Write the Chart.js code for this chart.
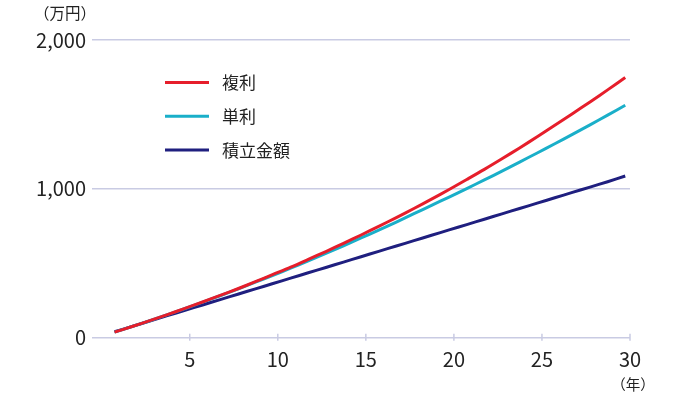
<!DOCTYPE html>
<html><head><meta charset="utf-8">
<script src="https://cdn.jsdelivr.net/npm/chart.js@4/dist/chart.umd.min.js"></script>
<style>html,body{margin:0;padding:0;background:#fff}#wrap{width:690px;height:398px}</style>
</head><body><div id="wrap"><canvas id="c" width="690" height="398"></canvas></div>
<script>
const years = [1,2,3,4,5,6,7,8,9,10,11,12,13,14,15,16,17,18,19,20,21,22,23,24,25,26,27,28,29,30];
const compound = [37,75,115,155,197,240,284,329,376,425,474,526,579,634,690,748,807,868,931,996,1063,1131,1202,1275,1350,1427,1505,1584,1665,1748];
const simple = [37,75,114,155,196,239,282,327,373,419,467,516,566,617,670,723,777,833,889,945,1002,1060,1119,1180,1241,1303,1366,1430,1495,1562];
const contrib = [40,76,112,148,184,220,256,292,328,364,400,436,472,508,544,580,616,652,688,724,760,796,832,868,904,940,976,1012,1048,1086];
const seriesNames = ['複利','単利','積立金額'];
const seriesColors = ['#e61e2b','#1aafc9','#1f1f7f'];
const xTicks = [5,10,15,20,25,30];
const yTicks = [0,1000,2000];
const yUnit = '（万円）';
const xUnit = '（年）';
const FONT = '"Noto Sans CJK JP","Noto Sans",sans-serif';
const SHIFT = 0.27;

const toPts = arr => arr.map((v,i)=>({x: years[i]-SHIFT, y: v}));
const values = [compound, simple, contrib];

const extras = {
  id:'extras',
  afterDraw(chart){
    const ctx = chart.ctx, xs = chart.scales.x, ys = chart.scales.y;
    ctx.save();
    ctx.strokeStyle = '#c9cbe3'; ctx.lineWidth = 1.5;
    const y0 = ys.getPixelForValue(0);
    xTicks.forEach(t=>{ const px = xs.getPixelForValue(t); ctx.beginPath(); ctx.moveTo(px,y0-4); ctx.lineTo(px,y0+3); ctx.stroke(); });
    chart.data.datasets.forEach((ds,i)=>{
      const ly = 82.5 + i*33.8;
      ctx.strokeStyle = ds.borderColor; ctx.lineWidth = 3;
      ctx.beginPath(); ctx.moveTo(165,ly); ctx.lineTo(209,ly); ctx.stroke();
      ctx.fillStyle = '#222'; ctx.font = '17px '+FONT; ctx.textBaseline='middle'; ctx.textAlign='left';
      ctx.fillText(ds.label, 222, ly);
    });
    ctx.fillStyle = '#222'; ctx.textAlign='center'; ctx.textBaseline='middle';
    ctx.font = '15.5px '+FONT;
    ctx.fillText(yUnit, 65, 13);
    ctx.font = '14.5px '+FONT;
    ctx.fillText(xUnit, 633, 384);
    ctx.restore();
  }
};

new Chart(document.getElementById('c'), {
  type:'line',
  data:{ datasets: values.map((v,i)=>({label:seriesNames[i], data:toPts(v), borderColor:seriesColors[i], backgroundColor:seriesColors[i], borderWidth:3, pointRadius:0, tension:0.3, fill:false})) },
  options:{
    responsive:false, animation:false,
    layout:{padding:{top:40,right:60,bottom:0,left:0}},
    plugins:{legend:{display:false}, tooltip:{enabled:false}},
    scales:{
      x:{type:'linear', min:-0.55, max:30,
        afterBuildTicks(s){ s.ticks = xTicks.map(v=>({value:v})); },
        afterFit(s){ s.height = 60.3; },
        grid:{display:false, drawTicks:false}, border:{display:false},
        ticks:{color:'#222', font:{family:FONT,size:20}, padding:10, maxRotation:0, autoSkip:false}
      },
      y:{min:0, max:2000,
        afterBuildTicks(s){ s.ticks = yTicks.map(v=>({value:v})); },
        afterFit(s){ s.width = 92; },
        grid:{color:'#c9cbe3', lineWidth:1.5, drawTicks:false}, border:{display:false},
        ticks:{color:'#222', font:{family:FONT,size:20}, padding:6, callback:v=>v.toLocaleString('en-US')}
      }
    }
  },
  plugins:[extras]
});
</script></body></html>
